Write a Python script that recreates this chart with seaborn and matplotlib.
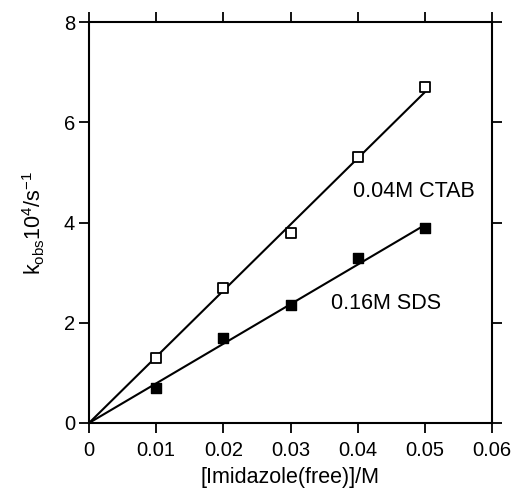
import matplotlib
matplotlib.use("Agg")
import matplotlib.pyplot as plt
import seaborn as sns
import pandas as pd

sns.set_theme(style="white")
plt.rcParams['font.family'] = ['Liberation Sans', 'DejaVu Sans']
plt.rcParams['mathtext.fontset'] = 'custom'
plt.rcParams['mathtext.rm'] = 'Liberation Sans'

imidazole = [0.01, 0.02, 0.03, 0.04, 0.05]
k_ctab = [1.3, 2.7, 3.8, 5.3, 6.7]
k_sds = [0.7, 1.7, 2.35, 3.3, 3.9]
fit_x = [0.0, 0.05]
fit_ctab = [0.0, 6.6]
fit_sds = [0.0, 3.95]
xticks = [0, 0.01, 0.02, 0.03, 0.04, 0.05, 0.06]
xtick_labels = ["0", "0.01", "0.02", "0.03", "0.04", "0.05", "0.06"]
yticks = [0, 2, 4, 6, 8]

df = pd.DataFrame({"x": imidazole, "ctab": k_ctab, "sds": k_sds})
fit = pd.DataFrame({"x": fit_x, "ctab": fit_ctab, "sds": fit_sds})

fig = plt.figure(figsize=(5.13, 4.93), dpi=100)
ax = fig.add_axes([89/513, 1-423/493, (492-89)/513, (423-22)/493])

sns.lineplot(data=fit, x="x", y="ctab", ax=ax, color="black", lw=1.5)
sns.lineplot(data=fit, x="x", y="sds", ax=ax, color="black", lw=1.5)
sns.scatterplot(data=df, x="x", y="ctab", ax=ax, marker="s", s=45,
                facecolor="white", edgecolor="black", linewidth=1.3, zorder=5)
sns.scatterplot(data=df, x="x", y="sds", ax=ax, marker="s", s=45,
                color="black", edgecolor="black", linewidth=1.0, zorder=5)

ax.set_xlim(0, 0.06)
ax.set_ylim(0, 8)
ax.set_xticks(xticks)
ax.set_xticklabels(xtick_labels)
ax.set_yticks(yticks)
for s in ax.spines.values():
    s.set_color("black")
    s.set_linewidth(1.5)
ax.tick_params(axis="both", which="both", direction="out", length=7, width=1.3,
               color="black", labelsize=14.5, labelcolor="black",
               top=True, right=True, bottom=True, left=True, pad=3)
ax.tick_params(axis="x", pad=6)

ax.set_xlabel("[Imidazole(free)]/M", fontsize=15.5, color="black", labelpad=5)
ax.set_ylabel(r"k$_{\mathregular{obs}}$10$^{\mathregular{4}}$/s$^{\mathregular{-1}}$",
              fontsize=15.5, color="black", labelpad=12)

ax.text(0.0393, 4.62, "0.04M CTAB", fontsize=15.5, va="center", ha="left", color="black")
ax.text(0.0360, 2.39, "0.16M SDS", fontsize=15.5, va="center", ha="left", color="black")

fig.savefig("out.png", dpi=100)
